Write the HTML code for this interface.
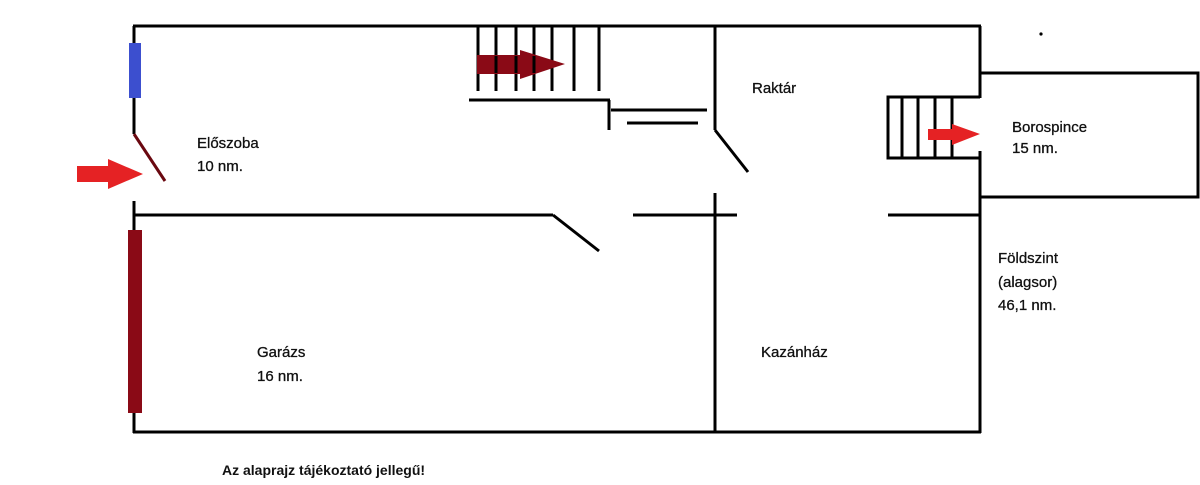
<!DOCTYPE html>
<html><head><meta charset="utf-8"><style>
html,body{margin:0;padding:0;background:#fff;}
svg{display:block}
text{font-family:"Liberation Sans",sans-serif;font-size:15px;fill:#111;stroke:#111;stroke-width:0.3}
</style></head><body>
<svg width="1200" height="485" viewBox="0 0 1200 485" xmlns="http://www.w3.org/2000/svg">
<g stroke="#000" stroke-width="3" fill="none" stroke-linecap="butt">
<line x1="133" y1="26" x2="981" y2="26"/>
<line x1="134" y1="26" x2="134" y2="134"/>
<line x1="134" y1="201" x2="134" y2="433"/>
<line x1="133" y1="432" x2="981" y2="432"/>
<line x1="980" y1="26" x2="980" y2="98"/>
<line x1="980" y1="151" x2="980" y2="433"/>
<line x1="134" y1="215" x2="553" y2="215"/>
<line x1="553" y1="215" x2="599" y2="251"/>
<line x1="633" y1="215" x2="737" y2="215"/>
<line x1="715" y1="26" x2="715" y2="130"/>
<line x1="715" y1="130" x2="748" y2="172"/>
<line x1="715" y1="193" x2="715" y2="433"/>
<line x1="888" y1="215" x2="980" y2="215"/>
<line x1="478" y1="26" x2="478" y2="91"/>
<line x1="496" y1="26" x2="496" y2="91"/>
<line x1="516" y1="26" x2="516" y2="91"/>
<line x1="534" y1="26" x2="534" y2="91"/>
<line x1="552" y1="26" x2="552" y2="91"/>
<line x1="574" y1="26" x2="574" y2="91"/>
<line x1="599" y1="26" x2="599" y2="91"/>
<line x1="469" y1="100" x2="610" y2="100"/>
<line x1="609" y1="100" x2="609" y2="130"/>
<line x1="611" y1="110" x2="707" y2="110"/>
<line x1="627" y1="123" x2="698" y2="123"/>
<polyline points="980,73 1198,73 1198,197 980,197"/>
<polyline points="980,97 888,97 888,158 980,158"/>
<line x1="902" y1="97" x2="902" y2="158"/>
<line x1="918" y1="97" x2="918" y2="158"/>
<line x1="935" y1="97" x2="935" y2="158"/>
<line x1="952" y1="97" x2="952" y2="158"/>
</g>
<line x1="134" y1="134" x2="165" y2="181" stroke="#6a0810" stroke-width="3"/>
<rect x="129" y="43" width="12" height="55" fill="#3c4fcf"/>
<rect x="128" y="230" width="14" height="183" fill="#8a0a16"/>
<polygon points="77,166 108,166 108,159 143,174 108,189 108,182 77,182" fill="#e52224"/>
<polygon points="928,129 952,129 952,124 980,134 952,145 952,140 928,140" fill="#e52224"/>
<polygon points="477,55 520,55 520,50 565,64 520,79 520,74 477,74" fill="#8a0a16"/>
<g stroke="#000" stroke-width="3">
<line x1="496" y1="56" x2="496" y2="73"/><line x1="516" y1="56" x2="516" y2="73"/><line x1="534" y1="56" x2="534" y2="73"/>
</g>
<circle cx="1041" cy="34" r="1.6" fill="#000"/>
<text x="197" y="148">Előszoba</text>
<text x="197" y="171">10 nm.</text>
<text x="752" y="93">Raktár</text>
<text x="1012" y="132">Borospince</text>
<text x="1012" y="153">15 nm.</text>
<text x="998" y="263">Földszint</text>
<text x="998" y="287">(alagsor)</text>
<text x="998" y="310">46,1 nm.</text>
<text x="257" y="357">Garázs</text>
<text x="257" y="381">16 nm.</text>
<text x="761" y="357">Kazánház</text>
<text x="222" y="475" style="font-weight:bold;font-size:14px;stroke-width:0">Az alaprajz tájékoztató jellegű!</text>
</svg>
</body></html>
